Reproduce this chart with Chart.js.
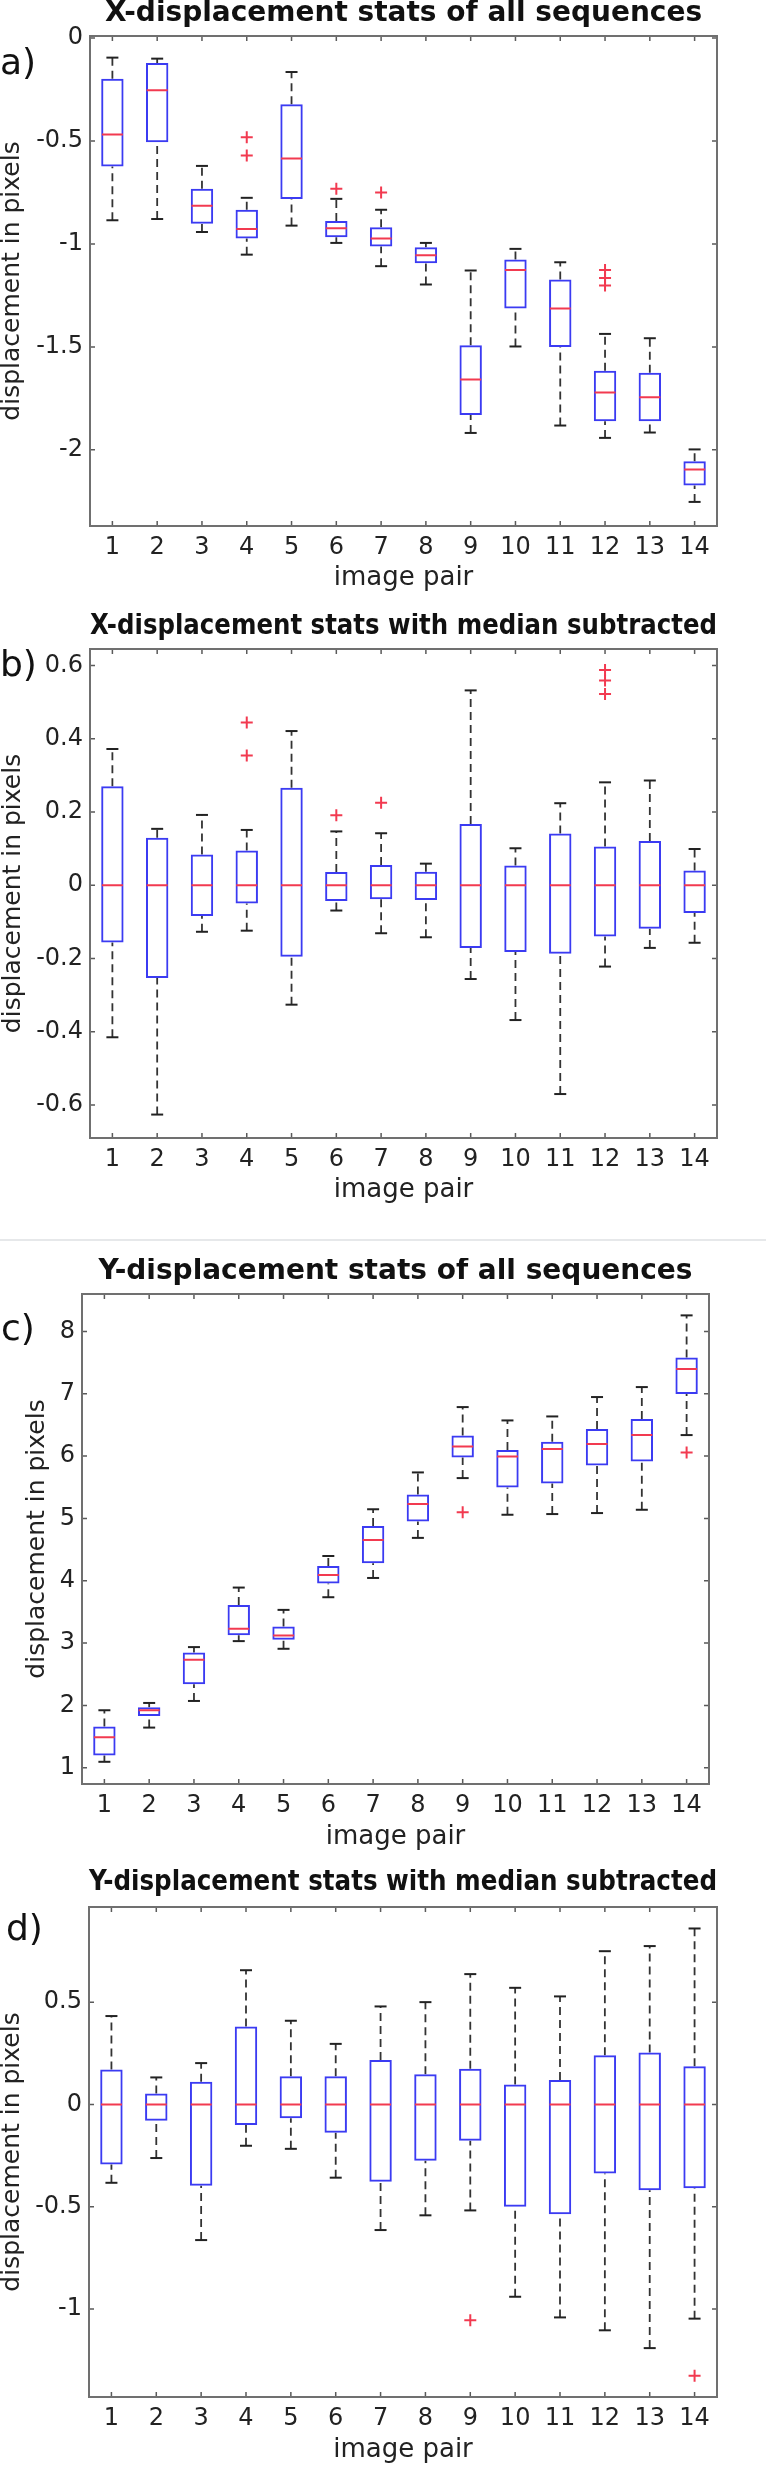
<!DOCTYPE html>
<html>
<head>
<meta charset="utf-8">
<script src="https://cdn.jsdelivr.net/npm/chart.js@4.4.1/dist/chart.umd.min.js"></script>
<style>
  body { margin: 0; background: #fff; }
  #page { position: relative; width: 766px; height: 2469px; overflow: hidden; font-family: "DejaVu Sans", sans-serif; }
  canvas { position: absolute; left: 0; }
  .tag { position: absolute; font-size: 36px; line-height: 36px; color: #111; }
  #sep { position: absolute; left: 0; top: 1239px; width: 766px; height: 2px; background: #e6e8ea; }
</style>
</head>
<body>
<div id="page">
  <canvas id="ca"></canvas>
  <canvas id="cb"></canvas>
  <div id="sep"></div>
  <canvas id="cc"></canvas>
  <canvas id="cd"></canvas>
  <div class="tag" style="left:0px;top:44px">a)</div>
  <div class="tag" style="left:0px;top:646px">b)</div>
  <div class="tag" style="left:1px;top:1310px">c)</div>
  <div class="tag" style="left:6px;top:1910px">d)</div>
</div>
<script>
const pairs = ['1', '2', '3', '4', '5', '6', '7', '8', '9', '10', '11', '12', '13', '14'];

// a) X-displacement stats of all sequences
const xAllHi  = [-0.095, -0.100, -0.621, -0.776, -0.165, -0.781, -0.834, -0.995, -1.129, -1.024, -1.089, -1.437, -1.458, -1.998];
const xAllQ3  = [-0.198, -0.121, -0.732, -0.834, -0.321, -0.889, -0.919, -1.016, -1.492, -1.076, -1.173, -1.616, -1.626, -2.055];
const xAllMed = [-0.469, -0.253, -0.815, -0.927, -0.585, -0.924, -0.973, -1.055, -1.658, -1.127, -1.313, -1.721, -1.745, -2.095];
const xAllQ1  = [-0.624, -0.506, -0.902, -0.974, -0.782, -0.968, -1.013, -1.094, -1.831, -1.313, -1.500, -1.861, -1.861, -2.173];
const xAllLo  = [-0.885, -0.879, -0.942, -1.052, -0.911, -0.995, -1.108, -1.197, -1.918, -1.498, -1.882, -1.942, -1.916, -2.253];
const xAllOutPair = ['4', '4', '6', '7', '12', '12', '12'];
const xAllOutVal  = [-0.482, -0.571, -0.732, -0.750, -1.127, -1.166, -1.202];

// b) X-displacement stats with median subtracted
const xSubHi  = [0.372, 0.154, 0.192, 0.151, 0.421, 0.147, 0.142, 0.059, 0.532, 0.101, 0.224, 0.281, 0.286, 0.099];
const xSubQ3  = [0.270, 0.130, 0.084, 0.095, 0.266, 0.036, 0.055, 0.037, 0.167, 0.054, 0.141, 0.106, 0.121, 0.040];
const xSubMed = [0, 0, 0, 0, 0, 0, 0, 0, 0, 0, 0, 0, 0, 0];
const xSubQ1  = [-0.156, -0.253, -0.084, -0.050, -0.195, -0.043, -0.038, -0.040, -0.171, -0.182, -0.187, -0.140, -0.119, -0.076];
const xSubLo  = [-0.415, -0.626, -0.127, -0.124, -0.326, -0.069, -0.131, -0.142, -0.256, -0.368, -0.570, -0.222, -0.171, -0.157];
const xSubOutPair = ['4', '4', '6', '7', '12', '12', '12'];
const xSubOutVal  = [0.444, 0.354, 0.191, 0.225, 0.588, 0.559, 0.522];

// c) Y-displacement stats of all sequences
const yAllHi  = [1.923, 2.040, 2.936, 3.891, 3.533, 4.397, 5.147, 5.738, 6.786, 6.572, 6.636, 6.947, 7.107, 8.257];
const yAllQ3  = [1.661, 1.971, 2.851, 3.613, 3.267, 4.237, 4.880, 5.385, 6.332, 6.096, 6.230, 6.433, 6.594, 7.583];
const yAllMed = [1.491, 1.923, 2.733, 3.229, 3.123, 4.093, 4.655, 5.232, 6.155, 5.995, 6.112, 6.193, 6.337, 7.396];
const yAllQ1  = [1.197, 1.832, 2.339, 3.128, 3.053, 3.955, 4.281, 4.952, 5.979, 5.497, 5.561, 5.850, 5.914, 6.995];
const yAllLo  = [1.096, 1.645, 2.072, 3.032, 2.909, 3.736, 4.045, 4.688, 5.647, 5.059, 5.070, 5.086, 5.139, 6.337];
const yAllOutPair = ['9', '14'];
const yAllOutVal  = [5.100, 6.059];

// d) Y-displacement stats with median subtracted
const ySubHi  = [0.432, 0.132, 0.202, 0.656, 0.409, 0.296, 0.479, 0.500, 0.637, 0.570, 0.528, 0.749, 0.774, 0.860];
const ySubQ3  = [0.171, 0.054, 0.111, 0.381, 0.138, 0.138, 0.217, 0.148, 0.174, 0.098, 0.119, 0.241, 0.254, 0.187];
const ySubMed = [0, 0, 0, 0, 0, 0, 0, 0, 0, 0, 0, 0, 0, 0];
const ySubQ1  = [-0.293, -0.080, -0.397, -0.101, -0.068, -0.138, -0.378, -0.275, -0.178, -0.500, -0.537, -0.337, -0.419, -0.410];
const ySubLo  = [-0.383, -0.262, -0.663, -0.202, -0.217, -0.358, -0.614, -0.542, -0.518, -0.940, -1.041, -1.104, -1.191, -1.047];
const ySubOutPair = ['9', '14'];
const ySubOutVal  = [-1.055, -1.326];

const BLUE = '#3b3bf2';
const RED = '#f23a50';
const INK = '#222';
const FONT = '"DejaVu Sans", sans-serif';

// inside tick marks on all four sides plus the axes box, MATLAB style
const frame = {
  id: 'frame',
  afterDatasetsDraw(chart) {
    const { ctx, chartArea: a, scales: { x, y } } = chart;
    ctx.save();
    ctx.strokeStyle = '#5a5a5a';
    ctx.lineWidth = 1.5;
    ctx.beginPath();
    x.ticks.forEach((t, i) => {
      const px = x.getPixelForTick(i);
      ctx.moveTo(px, a.top); ctx.lineTo(px, a.top + 5);
      ctx.moveTo(px, a.bottom); ctx.lineTo(px, a.bottom - 5);
    });
    y.ticks.forEach((t, i) => {
      const py = y.getPixelForTick(i);
      ctx.moveTo(a.left, py); ctx.lineTo(a.left + 5, py);
      ctx.moveTo(a.right, py); ctx.lineTo(a.right - 5, py);
    });
    ctx.stroke();
    ctx.strokeStyle = '#707070';
    ctx.lineWidth = 2;
    ctx.strokeRect(a.left, a.top, a.right - a.left, a.bottom - a.top);
    ctx.restore();
  }
};

function whiskers(from, to) {
  const pts = [];
  pairs.forEach((p, i) => {
    pts.push({ x: p, y: from[i] }, { x: p, y: to[i] }, { x: p, y: null });
  });
  return pts;
}

function boxPanel(id, p) {
  const cv = document.getElementById(id);
  cv.width = 766;
  cv.height = p.height;
  cv.style.top = p.top + 'px';
  return new Chart(cv, {
    type: 'bar',
    data: {
      labels: pairs,
      datasets: [
        {
          type: 'line', data: whiskers(p.q3, p.hi), borderColor: '#333', borderWidth: 1.8,
          borderDash: [8, 5], pointRadius: 0, spanGaps: false, fill: false, order: 5
        },
        {
          type: 'line', data: whiskers(p.lo, p.q1), borderColor: '#333', borderWidth: 1.8,
          borderDash: [8, 5], pointRadius: 0, spanGaps: false, fill: false, order: 5
        },
        {
          type: 'bar', data: pairs.map((_, i) => [p.q1[i], p.q3[i]]),
          backgroundColor: 'rgba(0,0,0,0)', borderColor: BLUE, borderWidth: 2,
          borderSkipped: false, barPercentage: 0.5, categoryPercentage: 1, order: 4
        },
        {
          type: 'line', data: p.med, showLine: false, pointStyle: 'line', pointRadius: 10.5,
          pointBorderColor: RED, pointBorderWidth: 2, order: 3
        },
        {
          type: 'line', data: p.hi, showLine: false, pointStyle: 'line', pointRadius: 6,
          pointBorderColor: INK, pointBorderWidth: 2, order: 2
        },
        {
          type: 'line', data: p.lo, showLine: false, pointStyle: 'line', pointRadius: 6,
          pointBorderColor: INK, pointBorderWidth: 2, order: 2
        },
        {
          type: 'line', data: p.outPair.map((c, i) => ({ x: c, y: p.outVal[i] })), showLine: false,
          pointStyle: 'cross', pointRadius: 6, pointBorderColor: RED, pointBorderWidth: 2, order: 1
        }
      ]
    },
    options: {
      responsive: false,
      animation: false,
      events: [],
      layout: { padding: { left: 0, right: 766 - p.right, top: 0, bottom: 0 } },
      plugins: {
        legend: { display: false },
        tooltip: { enabled: false },
        title: {
          display: true, text: p.title, fullSize: false, color: '#111',
          font: { family: FONT, size: 28, weight: 'bold', lineHeight: 1 },
          padding: { top: 0, bottom: p.titleGap }
        }
      },
      scales: {
        x: {
          offset: true,
          grid: { display: false, drawTicks: false, tickLength: 0 },
          border: { display: false },
          ticks: { color: INK, padding: 7, maxRotation: 0, autoSkip: false, font: { family: FONT, size: 24 } },
          title: {
            display: true, text: 'image pair', color: INK,
            font: { family: FONT, size: 26, lineHeight: 1.2 }, padding: { top: 0, bottom: p.xTitlePad }
          },
          afterFit: s => { s.height = 72; }
        },
        y: {
          min: p.min, max: p.max,
          grid: { display: false, drawTicks: false, tickLength: 0 },
          border: { display: false },
          ticks: {
            stepSize: p.step, includeBounds: false, color: INK, padding: 7,
            font: { family: FONT, size: 24 },
            callback: v => String(+v.toFixed(2))
          },
          title: {
            display: true, text: 'displacement in pixels', color: INK,
            font: { family: FONT, size: 25, lineHeight: 1 }, padding: { top: p.yTitlePad, bottom: 0 }
          },
          afterFit: s => { s.width = p.left; }
        }
      }
    },
    plugins: [frame]
  });
}

boxPanel('ca', {
  title: 'X-displacement stats of all sequences', top: 0, height: 598, titleGap: 8,
  left: 90, right: 717, min: -2.37, max: 0.01, step: 0.5, xTitlePad: 4, yTitlePad: 0,
  hi: xAllHi, q3: xAllQ3, med: xAllMed, q1: xAllQ1, lo: xAllLo, outPair: xAllOutPair, outVal: xAllOutVal
});
boxPanel('cb', {
  title: 'X-displacement stats with median subtracted', top: 613, height: 597, titleGap: 8,
  left: 90, right: 717, min: -0.69, max: 0.645, step: 0.2, xTitlePad: 4, yTitlePad: 1,
  hi: xSubHi, q3: xSubQ3, med: xSubMed, q1: xSubQ1, lo: xSubLo, outPair: xSubOutPair, outVal: xSubOutVal
});
boxPanel('cc', {
  title: 'Y-displacement stats of all sequences', top: 1258, height: 598, titleGap: 8,
  left: 82, right: 709, min: 0.74, max: 8.6, step: 1, xTitlePad: 3, yTitlePad: 25,
  hi: yAllHi, q3: yAllQ3, med: yAllMed, q1: yAllQ1, lo: yAllLo, outPair: yAllOutPair, outVal: yAllOutVal
});
boxPanel('cd', {
  title: 'Y-displacement stats with median subtracted', top: 1869, height: 600, titleGap: 10,
  left: 89, right: 717, min: -1.43, max: 0.965, step: 0.5, xTitlePad: 3, yTitlePad: 0,
  hi: ySubHi, q3: ySubQ3, med: ySubMed, q1: ySubQ1, lo: ySubLo, outPair: ySubOutPair, outVal: ySubOutVal
});
</script>
</body>
</html>
